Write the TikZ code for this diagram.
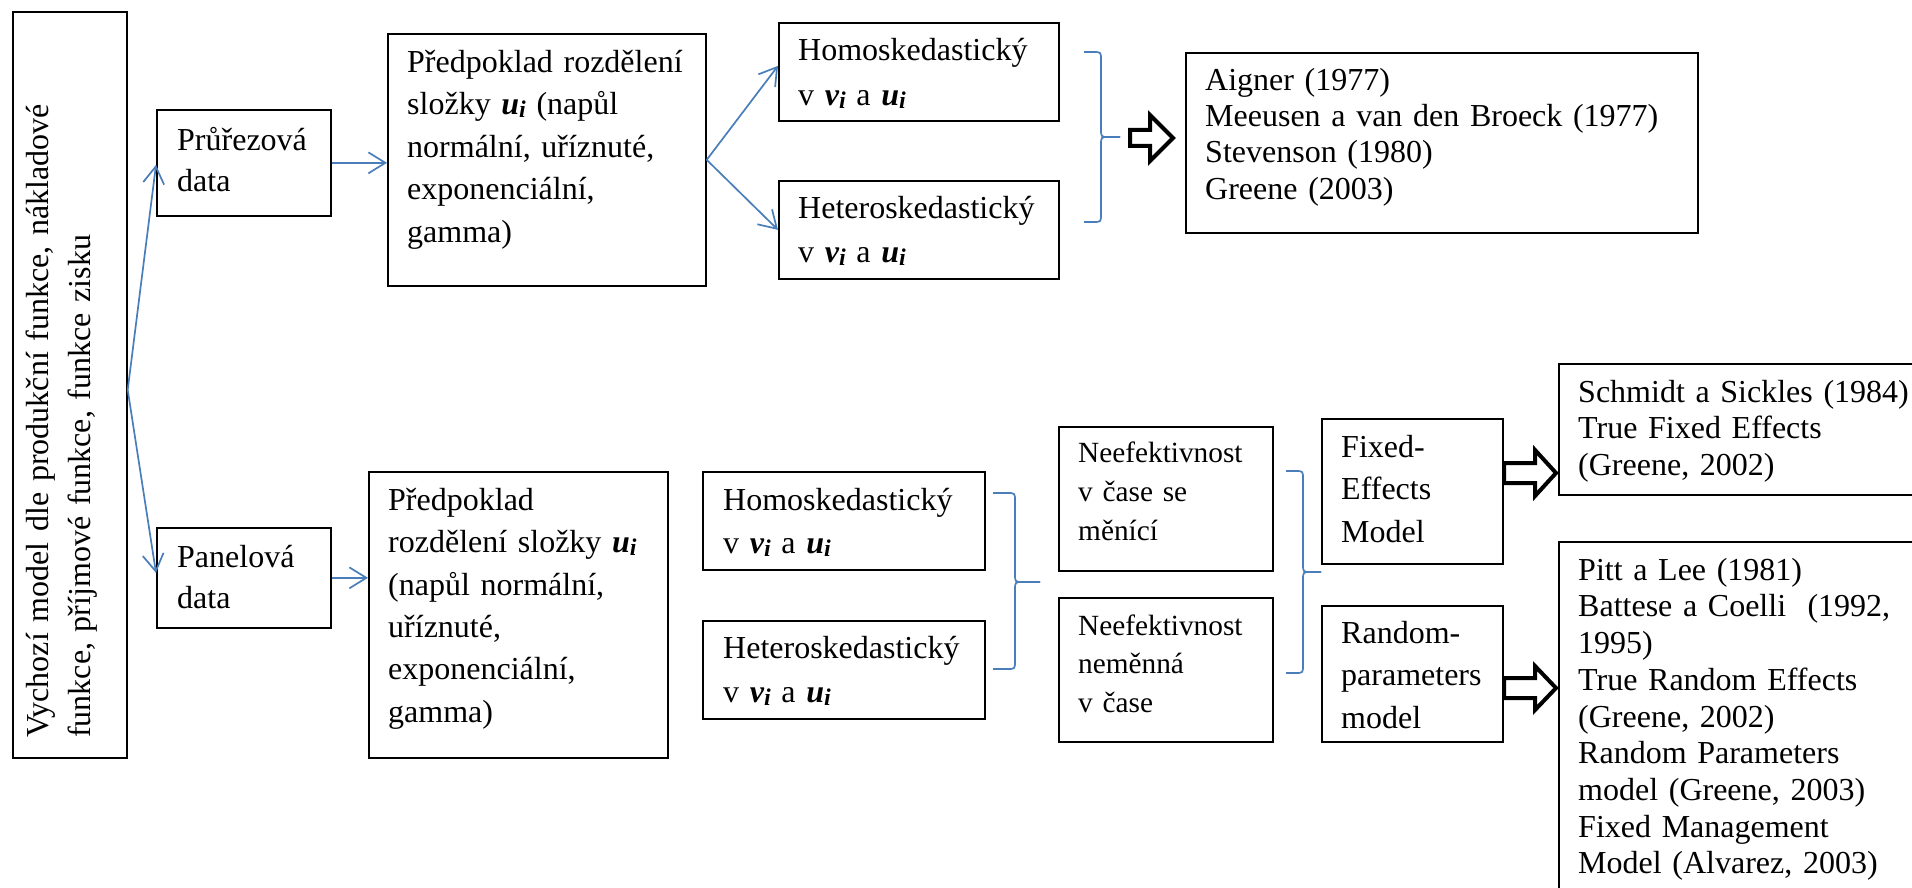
\documentclass[tikz,border=0pt]{standalone}
\usepackage{fontspec}
\setmainfont{Liberation Serif}
\usetikzlibrary{arrows.meta,calc}
\definecolor{lblue}{HTML}{4A7EBB}
\tikzset{
  box/.style={draw=black, line width=1.7pt, inner sep=0pt, anchor=north west},
  txt/.style={inner sep=0pt, anchor=north west, align=left, text width=#1},
  conn/.style={draw=lblue, line width=1.7pt, -{Straight Barb[length=17pt,width=21pt,line width=1.7pt]}},
  brc/.style={draw=lblue, line width=1.7pt},
  hollow/.style={draw=black, line width=4pt, fill=white, line join=miter},
}
\newcommand\subi{\raisebox{-3pt}{\fontsize{24}{24}\selectfont\bfseries\itshape i}}
\newcommand\bv{{\bfseries\itshape v}\subi}
\newcommand\bu{{\bfseries\itshape u}\subi}
% box: name, x0, y0, x1, y1
\newcommand\bx[5]{\node[box, minimum width={#4-#2}, minimum height={#5-#3}] (#1) at (#2,#3) {};}
% text: name, x, first baseline, size, skip, content
\newcommand\tx[6]{\node[txt=760pt, font=\fontsize{#4}{#5}\selectfont] (#1) at (#2,{#3-0.8*#4}) {\rule{0pt}{\dimexpr #4pt*8/10\relax}#6};}
% right brace: x0, xv, xt, ytop, ymid, ybot
\newcommand\rbr[6]{\draw[brc] (#1,#4) -- ({#2-8},#4) .. controls (#2,#4) .. (#2,{#4+8}) -- (#2,{#5-8}) .. controls (#2,#5) .. ({#2+8},#5) -- (#3,#5);
  \draw[brc] (#3,#5) -- ({#2+8},#5) .. controls (#2,#5) .. (#2,{#5+8}) -- (#2,{#6-8}) .. controls (#2,#6) .. ({#2-8},#6) -- (#1,#6);}
% hollow arrow: x0, xh, x1, cy, shaft half, head half
\newcommand\harr[6]{\draw[hollow] (#1,{#4-#5}) -- (#2,{#4-#5}) -- (#2,{#4-#6}) -- (#3,#4) -- (#2,{#4+#6}) -- (#2,{#4+#5}) -- (#1,{#4+#5}) -- cycle;}
\begin{document}
\begin{tikzpicture}[x=1pt,y=-1pt]
\clip (0,0) rectangle (1912,888);
\fill[white] (0,0) rectangle (1912,888);
% boxes
\bx{main}{12}{11}{126}{757}
\bx{prur}{156}{109}{330}{215}
\bx{panel}{156}{527}{330}{627}
\bx{pred1}{387}{33}{705}{285}
\bx{pred2}{368}{471}{667}{757}
\bx{homo1}{778}{22}{1058}{120}
\bx{het1}{778}{180}{1058}{278}
\bx{homo2}{702}{471}{984}{569}
\bx{het2}{702}{620}{984}{718}
\bx{aigner}{1185}{52}{1697}{232}
\bx{neef1}{1058}{426}{1272}{570}
\bx{neef2}{1058}{597}{1272}{741}
\bx{fixed}{1321}{418}{1502}{563}
\bx{random}{1321}{605}{1502}{741}
\bx{schmidt}{1558}{363}{1950}{494}
\bx{pitt}{1558}{541}{1950}{930}
% texts
\node[txt=720pt, font=\fontsize{32}{42}\selectfont, rotate=90] (maintext) at (22.4,738) {\rule{0pt}{25.6pt}Vychozí model dle produkční funkce, nákladové\\funkce, příjmové funkce, funkce zisku};
\tx{prurt}{177}{150}{32}{41}{Průřezová\\data}
\tx{panelt}{177}{567}{32}{41}{Panelová\\data}
\tx{pred1t}{407}{72}{32}{42.5}{Předpoklad rozdělení\\složky \bu{} (napůl\\normální, uříznuté,\\exponenciální,\\gamma)}
\tx{pred2t}{388}{510}{32}{42.4}{Předpoklad\\rozdělení složky \bu\\(napůl normální,\\uříznuté,\\exponenciální,\\gamma)}
\tx{homo1t}{798}{60}{32}{45}{Homoskedastický\\v \bv{} a \bu}
\tx{het1t}{798}{218}{32}{44}{Heteroskedastický\\v \bv{} a \bu}
\tx{homo2t}{723}{510}{32}{43}{Homoskedastický\\v \bv{} a \bu}
\tx{het2t}{723}{658}{32}{44}{Heteroskedastický\\v \bv{} a \bu}
\tx{aignert}{1205}{90}{32}{36.4}{Aigner (1977)\\Meeusen a van den Broeck (1977)\\Stevenson (1980)\\Greene (2003)}
\tx{neef1t}{1078}{462}{29.3}{39}{Neefektivnost\\v čase se\\měnící}
\tx{neef2t}{1078}{635}{29.3}{38.5}{Neefektivnost\\neměnná\\v čase}
\tx{fixedt}{1341}{457}{32}{42.5}{Fixed-\\Effects\\Model}
\tx{randomt}{1341}{643}{32}{42.5}{Random-\\parameters\\model}
\tx{schmidtt}{1578}{402}{32}{36.5}{Schmidt a Sickles (1984)\\True Fixed Effects\\(Greene, 2002)}
\tx{pittt}{1578}{580}{32}{36.7}{Pitt a Lee (1981)\\Battese a Coelli\ \ (1992,\\1995)\\True Random Effects\\(Greene, 2002)\\Random Parameters\\model (Greene, 2003)\\Fixed Management\\Model (Alvarez, 2003)}
% connectors
\coordinate (f0) at ($(main.east)+(0,5)$);
\draw[conn] (f0) -- ($(prur.west)+(0,2)$);
\draw[conn] (f0) -- ($(panel.west)+(0,-5)$);
\draw[conn] (prur.east) -- (prur.east -| pred1.west);
\draw[conn] (panel.east) -- (panel.east -| pred2.west);
\draw[conn] (pred1.east) -- ($(homo1.west)+(0,-6)$);
\draw[conn] (pred1.east) -- (het1.west);
% braces
\rbr{1084}{1101}{1120}{52}{137}{222}
\rbr{993}{1015}{1040}{493}{582}{669}
\rbr{1286}{1303}{1321}{471}{572}{673}
% hollow arrows
\harr{1130}{1150}{1173}{138}{8}{23}
\harr{1504}{1535}{1556}{473}{10}{23}
\harr{1504}{1535}{1556}{688}{10}{22}
\end{tikzpicture}
\end{document}
